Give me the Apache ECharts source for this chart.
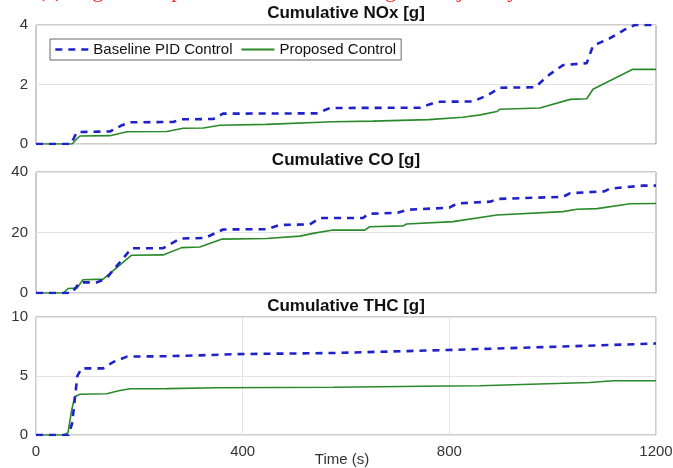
<!DOCTYPE html>
<html>
<head>
<meta charset="utf-8">
<script src="https://cdn.jsdelivr.net/npm/echarts@6/dist/echarts.min.js"></script>
<style>html,body{margin:0;padding:0;background:#fff;}#c{width:673px;height:468px;}</style>
</head>
<body>
<div id="c"></div>
<script>
// ---- data ----
var seriesNames = ['Baseline PID Control', 'Proposed Control'];
var panelTitles = ['Cumulative NOx [g]', 'Cumulative CO [g]', 'Cumulative THC [g]'];
var xTicks = [0, 400, 800, 1200];
var yMax = [4, 40, 10];
var yStep = [2, 20, 5];

// NOx
var noxBaseT = [0, 68, 72, 79, 143, 165, 182, 265, 282, 343, 362, 543, 569, 743, 776, 846, 875, 898, 966, 995, 1020, 1066, 1078, 1110, 1140, 1159, 1200];
var noxBaseV = [0, 0, 0.15, 0.40, 0.42, 0.62, 0.73, 0.74, 0.83, 0.84, 1.02, 1.03, 1.21, 1.22, 1.42, 1.43, 1.65, 1.89, 1.91, 2.35, 2.65, 2.72, 3.30, 3.55, 3.85, 4.0, 4.0];
var noxPropT = [0, 70, 76, 85, 143, 176, 253, 285, 324, 356, 446, 575, 652, 760, 826, 860, 892, 898, 975, 1034, 1066, 1078, 1155, 1200];
var noxPropV = [0, 0, 0.12, 0.27, 0.28, 0.41, 0.42, 0.53, 0.54, 0.63, 0.66, 0.75, 0.77, 0.82, 0.90, 0.98, 1.09, 1.17, 1.21, 1.50, 1.52, 1.84, 2.51, 2.51];

// CO
var coBaseT = [0, 69, 85, 118, 137, 185, 246, 279, 327, 362, 446, 472, 530, 550, 633, 643, 700, 718, 800, 815, 880, 892, 1020, 1034, 1100, 1111, 1175, 1200];
var coBaseV = [0, 0, 3.5, 3.5, 5.0, 14.8, 14.8, 18.0, 18.2, 21.0, 21.1, 22.5, 22.7, 24.8, 24.8, 26.2, 26.5, 27.5, 28.2, 29.6, 30.2, 31.1, 31.8, 33.0, 33.6, 34.5, 35.5, 35.5];
var coPropT = [0, 53, 62, 79, 91, 130, 185, 246, 282, 317, 359, 446, 511, 536, 575, 636, 646, 711, 717, 807, 892, 1020, 1047, 1086, 1150, 1200];
var coPropV = [0, 0, 1.5, 1.6, 4.4, 4.6, 12.5, 12.6, 15.0, 15.2, 17.8, 18.0, 18.8, 19.7, 20.8, 20.8, 21.9, 22.2, 22.8, 23.6, 25.8, 26.9, 27.7, 27.9, 29.5, 29.6];

// THC
var thcBaseT = [0, 63, 70, 75, 80, 88, 130, 150, 176, 253, 317, 383, 575, 795, 1020, 1198, 1200];
var thcBaseV = [0, 0, 1.0, 3.0, 5.0, 5.65, 5.65, 6.2, 6.64, 6.68, 6.75, 6.85, 6.95, 7.2, 7.5, 7.75, 7.75];
var thcPropT = [0, 53, 62, 69, 75, 85, 137, 160, 182, 253, 350, 575, 795, 859, 1072, 1117, 1200];
var thcPropV = [0, 0, 0.2, 2.1, 3.25, 3.45, 3.5, 3.75, 3.92, 3.93, 4.0, 4.05, 4.15, 4.17, 4.45, 4.6, 4.6];

// ---- build ----
function zip(t, v) { return t.map(function (x, i) { return [x, v[i]]; }); }
var panels = [
  [zip(noxBaseT, noxBaseV), zip(noxPropT, noxPropV)],
  [zip(coBaseT, coBaseV), zip(coPropT, coPropV)],
  [zip(thcBaseT, thcBaseV), zip(thcPropT, thcPropV)]
];

var FONT = '"Liberation Sans", Arial, Helvetica, sans-serif';
var BLUE = '#1e22c8';
var GREEN = '#2a8a2a';
var gridTops = [25, 172, 317];
var gridHeights = [119, 121, 118];
var titleTops = [5, 152, 298];

var grids = [], xAxes = [], yAxes = [], series = [], titles = [];
for (var i = 0; i < 3; i++) {
  grids.push({ left: 36, right: 17, top: gridTops[i], height: gridHeights[i], show: true,
    borderColor: '#9a9a9a', borderWidth: 1, backgroundColor: 'transparent',
    containLabel: false, outerBoundsMode: 'none' });
  var last = (i === 2);
  xAxes.push({ type: 'value', gridIndex: i, min: 0, max: 1200, interval: 400,
    axisLine: { show: false }, axisTick: { show: false },
    axisLabel: { show: last, fontSize: 15, color: '#333', fontFamily: FONT, margin: 9,
      formatter: function (v) { return xTicks.indexOf(v) >= 0 ? String(v) : ''; } },
    splitLine: { show: last, lineStyle: { color: '#e4e4e4', width: 1 } },
    name: last ? 'Time (s)' : '', nameLocation: 'middle', nameGap: 17, nameMoveOverlap: false,
    nameTextStyle: { fontSize: 15, color: '#333', fontFamily: FONT, padding: [0, 0, 0, -8] } });
  yAxes.push({ type: 'value', gridIndex: i, min: 0, max: yMax[i], interval: yStep[i],
    axisLine: { show: false }, axisTick: { show: false },
    axisLabel: { fontSize: 15, color: '#333', fontFamily: FONT, margin: 8 },
    splitLine: { show: true, lineStyle: { color: '#e4e4e4', width: 1 } } });
  titles.push({ text: panelTitles[i], left: 346, top: titleTops[i], textAlign: 'center', padding: 0,
    textStyle: { fontSize: 17, fontWeight: 'bold', color: '#111', fontFamily: FONT } });
  series.push({ name: seriesNames[0], type: 'line', xAxisIndex: i, yAxisIndex: i, data: panels[i][0],
    symbol: 'none', showSymbol: false, z: 3, silent: true, animation: false,
    lineStyle: { color: BLUE, width: 2.6, type: [7, 6] }, itemStyle: { color: BLUE } });
  series.push({ name: seriesNames[1], type: 'line', xAxisIndex: i, yAxisIndex: i, data: panels[i][1],
    symbol: 'none', showSymbol: false, z: 2, silent: true, animation: false,
    lineStyle: { color: GREEN, width: 1.6 }, itemStyle: { color: GREEN } });
}

var chart = echarts.init(document.getElementById('c'), null, { renderer: 'canvas' });
chart.setOption({
  animation: false,
  backgroundColor: '#fff',
  title: titles,
  grid: grids,
  xAxis: xAxes,
  yAxis: yAxes,
  legend: {
    data: [
      { name: seriesNames[0], itemStyle: { opacity: 0 }, lineStyle: { color: BLUE, width: 2.6, type: [7, 6], opacity: 1 } },
      { name: seriesNames[1], itemStyle: { opacity: 0 }, lineStyle: { color: GREEN, width: 1.8, opacity: 1 } }
    ],
    left: 50, top: 39, orient: 'horizontal',
    backgroundColor: '#fff', borderColor: '#666', borderWidth: 1, borderRadius: 0,
    padding: [3, 5, 3, 4], itemWidth: 33, itemHeight: 12, itemGap: 8,
    textStyle: { fontSize: 15, color: '#111', fontFamily: FONT, padding: [0, 0, 0, 0] },
    selectedMode: false
  },
  graphic: [{
    type: 'text', left: 38, top: -20, silent: true,
    style: { text: '(c) Engine-out pollutant emissions along the trajectory', fill: '#ff2020',
      font: '22px "Liberation Serif", "Times New Roman", serif' }
  }],
  series: series
});
</script>
</body>
</html>
